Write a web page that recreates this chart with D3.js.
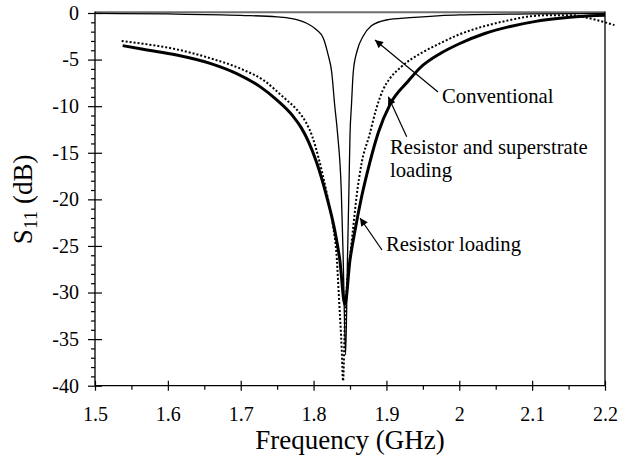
<!DOCTYPE html>
<html>
<head>
<meta charset="utf-8">
<script src="https://cdn.jsdelivr.net/npm/d3@7"></script>
<style>
  html, body { margin: 0; padding: 0; background: #fff; }
  svg { display: block; font-family: "Liberation Serif", "Times New Roman", serif; }
</style>
</head>
<body>
<svg id="chart" width="620" height="464"></svg>
<script>
// ---- Data ----
const xTicks = [1.5, 1.6, 1.7, 1.8, 1.9, 2.0, 2.1, 2.2];
const xTickLabels = ["1.5", "1.6", "1.7", "1.8", "1.9", "2", "2.1", "2.2"];
const xMinorTicks = [1.55, 1.65, 1.75, 1.85, 1.95, 2.05, 2.15];
const yTicks = [0, -5, -10, -15, -20, -25, -30, -35, -40];
const yMinorTicks = [-1,-2,-3,-4,-6,-7,-8,-9,-11,-12,-13,-14,-16,-17,-18,-19,-21,-22,-23,-24,-26,-27,-28,-29,-31,-32,-33,-34,-36,-37,-38,-39];

// Conventional (thin solid)
const convFreq = [1.5, 1.6, 1.7, 1.75, 1.768, 1.7905, 1.804, 1.8134, 1.820, 1.8248, 1.829, 1.833, 1.838, 1.8407, 1.844, 1.8465, 1.8485, 1.850, 1.852, 1.8545, 1.860, 1.868, 1.879, 1.900, 1.932, 1.97, 2.0, 2.1, 2.2];
const convS11  = [-0.05, -0.1, -0.25, -0.42, -0.57, -1.1, -1.8, -2.7, -4.5, -6.3, -9.9, -13, -19, -26.5, -36.7, -26.5, -19, -13.1, -9.9, -6.3, -4.0, -2.5, -1.4, -0.75, -0.5, -0.3, -0.2, -0.1, -0.05];

// Resistor loading (thick solid)
const resFreq = [1.538, 1.566, 1.612, 1.658, 1.6945, 1.7265, 1.749, 1.772, 1.783, 1.793, 1.804, 1.818, 1.829, 1.836, 1.843, 1.850, 1.857, 1.866, 1.877, 1.889, 1.905, 1.93, 1.946, 1.975, 2.0, 2.035, 2.07, 2.105, 2.138, 2.165, 2.2];
const resS11  = [-3.5, -3.9, -4.5, -5.4, -6.5, -7.9, -9.3, -11.1, -12.3, -13.8, -16.0, -19.7, -23.3, -26.5, -31.3, -26.5, -23.3, -19.7, -16.1, -12.8, -9.8, -7.3, -5.9, -4.3, -3.3, -2.2, -1.45, -0.9, -0.57, -0.38, -0.25];

// Resistor and superstrate loading (dotted)
const supFreq = [1.5366, 1.566, 1.612, 1.658, 1.7035, 1.731, 1.758, 1.781, 1.790, 1.798, 1.807, 1.818, 1.826, 1.832, 1.835, 1.8386, 1.8405, 1.843, 1.846, 1.8495, 1.854, 1.859, 1.866, 1.877, 1.886, 1.895, 1.905, 1.92, 1.935, 1.95, 1.975, 2.0, 2.035, 2.07, 2.093, 2.12, 2.156, 2.175, 2.2, 2.213];
const supS11  = [-3.0, -3.3, -3.9, -4.85, -6.1, -7.2, -9.0, -10.75, -11.8, -13.2, -15.6, -19.3, -22.5, -26.5, -30.8, -36, -39.5, -33, -29, -26.5, -23.3, -19.7, -16.1, -13, -10.3, -8.3, -7.0, -5.8, -4.9, -4.2, -3.2, -2.3, -1.4, -0.75, -0.4, -0.25, -0.25, -0.5, -1.0, -1.3];

// Annotations
const annoText = ["Conventional", "Resistor and superstrate", "loading", "Resistor loading"];

// ---- Layout ----
const svg = d3.select("#chart");
const mLeft = 95, mRight = 605, mTop = 13, mBottom = 385.7;
const x = d3.scaleLinear().domain([1.5, 2.2]).range([mLeft, mRight]);
const y = d3.scaleLinear().domain([0, -40]).range([mTop, mBottom]);

// Top frame line (gray)
svg.append("line")
  .attr("x1", mLeft).attr("x2", mRight)
  .attr("y1", y(0) - 0.8).attr("y2", y(0) - 0.8)
  .attr("stroke", "#6e6e6e").attr("stroke-width", 2);

// Right frame line
svg.append("line")
  .attr("x1", mRight).attr("x2", mRight)
  .attr("y1", mTop - 1.5).attr("y2", mBottom)
  .attr("stroke", "#000").attr("stroke-width", 1.3);

// Curves
const line = (fx, fy) => d3.line()
  .x((d, i) => x(fx[i]))
  .y((d, i) => y(fy[i]))
  .curve(d3.curveMonotoneX)(fx);

svg.append("path").attr("d", line(convFreq, convS11))
  .attr("fill", "none").attr("stroke", "#000").attr("stroke-width", 1.3);
svg.append("path").attr("d", line(resFreq, resS11))
  .attr("fill", "none").attr("stroke", "#000").attr("stroke-width", 3);
svg.append("path").attr("d", line(supFreq, supS11))
  .attr("fill", "none").attr("stroke", "#000").attr("stroke-width", 2)
  .attr("stroke-dasharray", "2,2");

// Axes
const fontTick = 20;
const gx = svg.append("g").attr("transform", `translate(0,${mBottom})`)
  .call(d3.axisBottom(x).tickValues(xTicks)
    .tickFormat((d, i) => xTickLabels[i]).tickSize(5).tickPadding(16));
const gxMinor = svg.append("g").attr("transform", `translate(0,${mBottom})`)
  .call(d3.axisBottom(x).tickValues(xMinorTicks).tickFormat("").tickSize(4));
const gy = svg.append("g").attr("transform", `translate(${mLeft},0)`)
  .call(d3.axisLeft(y).tickValues(yTicks).tickFormat(d => d === 0 ? "0" : String(d)).tickSize(7).tickPadding(9));
const gyMinor = svg.append("g").attr("transform", `translate(${mLeft},0)`)
  .call(d3.axisLeft(y).tickValues(yMinorTicks).tickFormat("").tickSize(4));

[gx, gxMinor, gy, gyMinor].forEach(g => {
  g.selectAll("path.domain").attr("stroke", "#000").attr("stroke-width", 1.3);
  g.selectAll(".tick line").attr("stroke", "#000").attr("stroke-width", 1.2);
  g.selectAll("text").attr("font-family", "'Liberation Serif', 'Times New Roman', serif")
    .attr("font-size", fontTick).attr("fill", "#000");
});
gx.select("path.domain").attr("d", `M${mLeft},0H${mRight}`);
gxMinor.select("path.domain").remove();
gyMinor.select("path.domain").remove();
gy.select("path.domain").attr("d", `M0,${mTop - 1.5}V${mBottom}`);
// inside part of major ticks
gx.selectAll(".tick").append("line").attr("y1", 0).attr("y2", -5).attr("stroke", "#000").attr("stroke-width", 1.2);
gy.selectAll(".tick").append("line").attr("x1", 0).attr("x2", 7).attr("stroke", "#000").attr("stroke-width", 1.2);

// Axis titles
svg.append("text")
  .attr("x", (mLeft + mRight) / 2).attr("y", 449)
  .attr("text-anchor", "middle").attr("font-size", 27)
  .text("Frequency (GHz)");

const yl = svg.append("text")
  .attr("transform", `translate(32,${(mTop + mBottom) / 2}) rotate(-90)`)
  .attr("text-anchor", "middle").attr("font-size", 27);
yl.append("tspan").text("S");
yl.append("tspan").attr("font-size", 19).attr("dy", 5).text("11");
yl.append("tspan").attr("dy", -5).text(" (dB)");

// Arrows
const defs = svg.append("defs");
defs.append("marker").attr("id", "arr")
  .attr("viewBox", "0 0 10 10").attr("refX", 10).attr("refY", 5)
  .attr("markerWidth", 11).attr("markerHeight", 8)
  .attr("markerUnits", "userSpaceOnUse")
  .attr("orient", "auto")
  .append("path").attr("d", "M0,0L10,5L0,10Z").attr("fill", "#000");

const arrows = [
  [438, 92, 375, 40],
  [406.7, 136.7, 388.3, 96.7],
  [382, 250, 360, 218]
];
arrows.forEach(a => {
  svg.append("line").attr("x1", a[0]).attr("y1", a[1]).attr("x2", a[2]).attr("y2", a[3])
    .attr("stroke", "#000").attr("stroke-width", 1.2).attr("marker-end", "url(#arr)");
});

const annoPos = [[442, 103], [390, 154], [390, 177], [386, 251]];
annoText.forEach((t, i) => {
  svg.append("text").attr("x", annoPos[i][0]).attr("y", annoPos[i][1])
    .attr("font-size", 20.7).text(t);
});
</script>
</body>
</html>
